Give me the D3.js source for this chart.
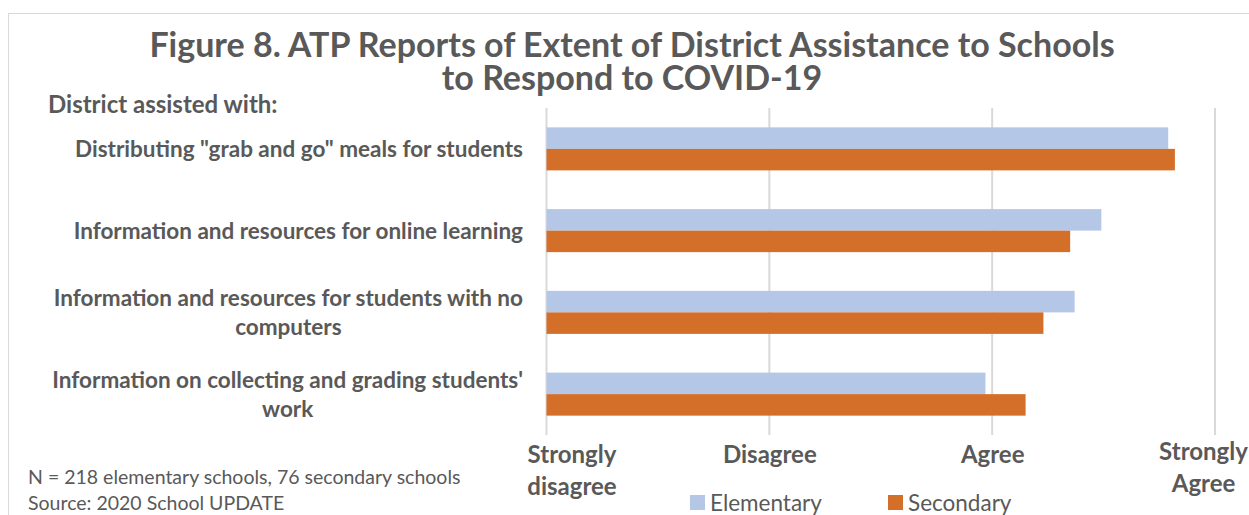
<!DOCTYPE html>
<html>
<head>
<meta charset="utf-8">
<script src="https://cdn.jsdelivr.net/npm/d3@7"></script>
<style>
  body { margin: 0; background: #fff; }
  svg text { font-family: Lato, "Open Sans", sans-serif; fill: #595959; }
</style>
</head>
<body>
<svg id="chart" width="1249" height="515"></svg>
<script>
var categories = [
  ['Distributing "grab and go" meals for students'],
  ['Information and resources for online learning'],
  ['Information and resources for students with no', 'computers'],
  ["Information on collecting and grading students'", 'work']
];
var series = ['Elementary', 'Secondary'];
var elementary = [3.79, 3.49, 3.37, 2.97];
var secondary = [3.82, 3.35, 3.23, 3.15];
var tickValues = [1, 2, 3, 4];
var tickLabels = [['Strongly', 'disagree'], ['Disagree'], ['Agree'], ['Strongly', 'Agree']];
var colors = ['#b4c7e7', '#d46f2a'];

var svg = d3.select('#chart');

// chart border (only top and left visible in the crop)
svg.append('rect')
  .attr('x', 8.5).attr('y', 13.5)
  .attr('width', 1260).attr('height', 520)
  .attr('fill', 'none').attr('stroke', '#d9d9d9');

svg.append('text')
  .attr('x', 632).attr('y', 57)
  .attr('text-anchor', 'middle')
  .style('font-size', '34px').style('font-weight', 'bold')
  .text('Figure 8. ATP Reports of Extent of District Assistance to Schools');
svg.append('text')
  .attr('x', 632).attr('y', 90)
  .attr('text-anchor', 'middle')
  .style('font-size', '34px').style('font-weight', 'bold')
  .text('to Respond to COVID-19');

svg.append('text')
  .attr('x', 48).attr('y', 113)
  .style('font-size', '24px').style('font-weight', 'bold')
  .text('District assisted with:');

var plotLeft = 546.5, plotRight = 1215, plotTop = 108, plotBottom = 435;

var x = d3.scaleLinear().domain([1, 4]).range([plotLeft, plotRight]);
var y = d3.scaleBand().domain(d3.range(categories.length)).range([plotTop, plotBottom]);
var groupH = y.bandwidth() / 1.9;
var yInner = d3.scaleBand().domain(series).range([0, groupH]);

// gridlines
svg.append('g')
  .selectAll('line')
  .data(tickValues)
  .join('line')
  .attr('x1', d => x(d)).attr('x2', d => x(d))
  .attr('y1', plotTop).attr('y2', plotBottom)
  .attr('stroke', '#d9d9d9').attr('stroke-width', 2);

var rows = categories.map(function(c, i) {
  return [{s: 'Elementary', v: elementary[i]}, {s: 'Secondary', v: secondary[i]}];
});

svg.append('g')
  .selectAll('g')
  .data(rows)
  .join('g')
  .attr('transform', (d, i) => 'translate(0,' + (y(i) + (y.bandwidth() - groupH) / 2) + ')')
  .selectAll('rect')
  .data(d => d)
  .join('rect')
  .attr('x', x(1))
  .attr('y', d => yInner(d.s))
  .attr('width', d => x(d.v) - x(1))
  .attr('height', yInner.bandwidth())
  .attr('fill', (d, i) => colors[i]);

// category labels: block right-aligned, lines centred within block
var catG = svg.append('g');
categories.forEach(function(lines, i) {
  var g = catG.append('g');
  var lh = 29;
  var cy = y(i) + y.bandwidth() / 2 - (lines.length - 1) * lh / 2;
  var texts = lines.map(function(l, j) {
    return g.append('text')
      .attr('y', cy + j * lh)
      .attr('dy', '0.35em')
      .attr('text-anchor', 'middle')
      .style('font-size', '22.5px').style('font-weight', 'bold')
      .text(l);
  });
  var w = d3.max(texts, t => t.node().getComputedTextLength());
  texts.forEach(t => t.attr('x', 523 - w / 2));
});

// value axis with word labels
var axis = d3.axisBottom(x).tickValues(tickValues).tickSize(0).tickFormat('');
var axG = svg.append('g').attr('transform', 'translate(0,' + plotBottom + ')').call(axis);
axG.select('.domain').remove();
axG.selectAll('.tick').each(function(d, i) {
  var shift = i === 0 ? 25 : (i === tickValues.length - 1 ? -12 : 0);
  var t = d3.select(this).append('text')
    .attr('x', shift)
    .attr('y', i === tickValues.length - 1 ? 17 : 20)
    .attr('dy', '0.35em')
    .attr('text-anchor', 'middle')
    .style('font-size', '24px').style('font-weight', 'bold');
  tickLabels[i].forEach(function(l, j) {
    t.append('tspan').attr('x', shift).attr('dy', j === 0 ? '0.35em' : '32px').text(l);
  });
});

// notes
svg.append('text').attr('x', 28).attr('y', 484)
  .style('font-size', '19.5px')
  .text('N = 218 elementary schools, 76 secondary schools');
svg.append('text').attr('x', 28).attr('y', 510)
  .style('font-size', '19.5px')
  .text('Source: 2020 School UPDATE');

// legend
var legendX = [690, 888];
var lg = svg.append('g').selectAll('g').data(series).join('g')
  .attr('transform', (d, i) => 'translate(' + legendX[i] + ',495)');
lg.append('rect').attr('width', 15).attr('height', 15).attr('fill', (d, i) => colors[i]);
lg.append('text').attr('x', 20).attr('y', 8).attr('dy', '0.35em')
  .style('font-size', '22.5px').text(d => d);
</script>
</body>
</html>
